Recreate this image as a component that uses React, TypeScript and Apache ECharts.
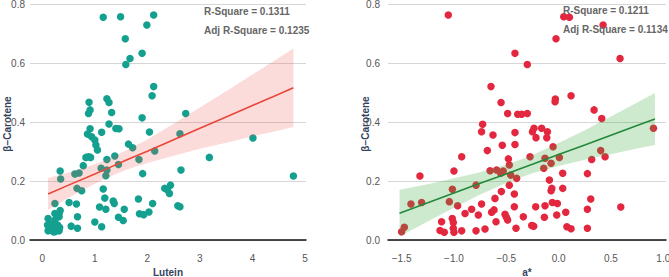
import React, { useEffect, useRef } from "react";
import * as echarts from "echarts";

// ---- Left panel: Lutein vs β-Carotene ----
const luteinPoints: [number, number][] = [
  [1.16, 0.755], [1.49, 0.757], [2.12, 0.763], [1.99, 0.729], [1.58, 0.682], [1.9, 0.633], [1.67, 0.615], [1.59, 0.595],
  [2.12, 0.52], [2.09, 0.489], [0.89, 0.467], [0.91, 0.441], [0.88, 0.429], [1.23, 0.479], [1.27, 0.466], [1.32, 0.432], [1.9, 0.414], [2.73, 0.429],
  [0.91, 0.377], [0.86, 0.359], [1.27, 0.393], [1.4, 0.378], [1.46, 0.377], [1.13, 0.365], [2.04, 0.366], [2.62, 0.36], [4.01, 0.346], [0.94, 0.35],
  [1.0, 0.339], [1.02, 0.322], [1.05, 0.305], [1.64, 0.325], [1.72, 0.313], [2.14, 0.302], [3.18, 0.28], [0.83, 0.28], [0.92, 0.28], [0.88, 0.282],
  [1.23, 0.273], [1.38, 0.285], [1.84, 0.273], [0.78, 0.252], [1.12, 0.243], [1.45, 0.256], [1.23, 0.237], [1.21, 0.218], [1.91, 0.225], [2.64, 0.237], [4.78, 0.217],
  [0.34, 0.234], [0.35, 0.207], [0.62, 0.224], [0.7, 0.227], [0.66, 0.175], [0.75, 0.167], [1.16, 0.173], [2.33, 0.175], [2.44, 0.186], [2.42, 0.158], [2.38, 0.17],
  [1.83, 0.139], [1.19, 0.142], [1.35, 0.132], [1.37, 0.124], [2.1, 0.124], [0.24, 0.124], [0.51, 0.127], [0.65, 0.122], [2.58, 0.116], [2.62, 0.113],
  [1.09, 0.112], [1.21, 0.104], [1.56, 0.104], [0.34, 0.1], [0.32, 0.09], [0.24, 0.09], [1.85, 0.089], [1.93, 0.086], [2.03, 0.095], [0.67, 0.079],
  [0.11, 0.073], [1.45, 0.077], [1.54, 0.066], [1.0, 0.061], [0.55, 0.047], [0.67, 0.04], [1.13, 0.045], [0.33, 0.042], [0.11, 0.031], [0.21, 0.028],
  [0.32, 0.031], [0.15, 0.054], [0.24, 0.045], [0.18, 0.036], [0.1, 0.051], [0.15, 0.034], [0.29, 0.051], [0.24, 0.068], [0.32, 0.079], [0.24, 0.028],
];
const luteinBandX = [0.11, 0.5, 1.0, 1.3, 1.6, 2.0, 2.5, 3.0, 3.5, 4.0, 4.5, 4.78];
const luteinFit = [0.156, 0.186, 0.224, 0.247, 0.271, 0.301, 0.34, 0.379, 0.417, 0.456, 0.494, 0.516];
const luteinLower = [0.102, 0.143, 0.191, 0.216, 0.238, 0.261, 0.286, 0.309, 0.33, 0.351, 0.371, 0.383];
const luteinUpper = [0.21, 0.229, 0.257, 0.278, 0.304, 0.341, 0.394, 0.449, 0.504, 0.561, 0.617, 0.649];

// ---- Right panel: a* vs β-Carotene ----
const aStarPoints: [number, number][] = [
  [-1.054, 0.763], [0.049, 0.757], [0.103, 0.755], [0.425, 0.729], [-0.025, 0.682], [-0.417, 0.633], [-0.299, 0.595], [0.587, 0.615],
  [-0.646, 0.52], [0.119, 0.489], [-0.031, 0.478], [-0.034, 0.469], [-0.55, 0.466], [-0.487, 0.429], [-0.391, 0.426], [-0.353, 0.426], [-0.299, 0.429],
  [0.339, 0.441], [0.412, 0.412], [-0.726, 0.392], [-0.736, 0.367], [-0.627, 0.356], [-0.417, 0.364], [-0.417, 0.324], [-0.538, 0.321], [-0.681, 0.303],
  [-0.235, 0.379], [-0.25, 0.367], [-0.162, 0.379], [-0.107, 0.367], [-0.113, 0.347], [-0.216, 0.347], [-0.053, 0.316], [0.906, 0.379], [0.402, 0.303],
  [0.444, 0.282], [0.316, 0.273], [-0.926, 0.282], [-1.0, 0.234], [-1.325, 0.217], [-0.655, 0.235], [-0.592, 0.237], [-0.554, 0.226], [-0.529, 0.234],
  [-0.48, 0.275], [-0.471, 0.254], [-0.458, 0.22], [-0.401, 0.209], [-0.273, 0.282], [-0.13, 0.277], [-0.142, 0.243], [0.007, 0.28], [-0.072, 0.26],
  [0.039, 0.226], [0.275, 0.225], [-0.088, 0.203], [-0.065, 0.175], [-0.072, 0.167], [0.039, 0.175], [-0.789, 0.186], [-1.015, 0.172], [-0.471, 0.186],
  [-0.547, 0.164], [-0.423, 0.156], [-0.608, 0.141], [-1.411, 0.122], [-1.309, 0.127], [-1.044, 0.13], [-0.965, 0.116], [-0.736, 0.122], [-0.423, 0.113],
  [-0.219, 0.113], [-0.13, 0.116], [-0.06, 0.127], [-0.012, 0.124], [0.307, 0.139], [0.594, 0.112], [0.275, 0.104], [0.068, 0.094], [-0.018, 0.085],
  [-0.136, 0.077], [-0.337, 0.079], [-0.499, 0.077], [-0.487, 0.068], [-0.64, 0.094], [-0.617, 0.102], [-0.598, 0.062], [-0.831, 0.104], [-0.894, 0.09],
  [-0.767, 0.085], [-1.016, 0.073], [-1.006, 0.059], [-1.118, 0.062], [-1.133, 0.032], [-1.092, 0.026], [-1.006, 0.04], [-1.0, 0.026], [-0.926, 0.031],
  [-0.789, 0.031], [-0.703, 0.037], [-0.407, 0.04], [-0.257, 0.049], [-0.238, 0.047], [0.079, 0.045], [0.119, 0.038], [0.275, 0.04], [-1.5, 0.028],
  [-1.474, 0.043], [-0.512, 0.087],
];
const aStarBandX = [-1.52, -1.25, -1.0, -0.75, -0.5, -0.38, -0.25, 0, 0.25, 0.5, 0.75, 0.92];
const aStarFit = [0.091, 0.126, 0.159, 0.192, 0.224, 0.24, 0.257, 0.29, 0.322, 0.355, 0.388, 0.41];
const aStarLower = [0.012, 0.063, 0.109, 0.154, 0.193, 0.21, 0.226, 0.251, 0.272, 0.291, 0.31, 0.322];
const aStarUpper = [0.17, 0.189, 0.209, 0.23, 0.255, 0.27, 0.288, 0.329, 0.372, 0.419, 0.466, 0.498];

const yTicks = [0, 0.2, 0.4, 0.6, 0.8];
const yTitle = "β−Carotene";
const leftStats = ["R-Square = 0.1311", "Adj R-Square = 0.1235"];
const rightStats = ["R-Square = 0.1211", "Adj R-Square = 0.1134"];

const FONT = "'Liberation Sans', Arial, sans-serif";
const TICK_COLOR = "#555555";
const TITLE_COLOR = "#34435e";

function bandSeries(xIdx: number, bx: number[], lo: number[], hi: number[], fill: string) {
  return {
    type: "custom",
    xAxisIndex: xIdx,
    yAxisIndex: xIdx,
    z: 3,
    silent: true,
    data: [[bx[0], lo[0]]],
    renderItem: (_params: any, api: any) => {
      const pts: number[][] = [];
      for (let i = 0; i < bx.length; i++) pts.push(api.coord([bx[i], hi[i]]));
      for (let i = bx.length - 1; i >= 0; i--) pts.push(api.coord([bx[i], lo[i]]));
      return { type: "polygon", shape: { points: pts }, style: { fill } };
    },
  };
}

export default function App() {
  const ref = useRef<HTMLDivElement>(null);
  useEffect(() => {
    if (!ref.current) return;
    const chart = echarts.init(ref.current, null, { renderer: "svg" });
    const yAxisBase = (gi: number, margin: number) => ({
      type: "value",
      gridIndex: gi,
      min: 0,
      max: 0.8,
      interval: 0.2,
      axisLine: { show: false },
      axisTick: { show: false },
      axisLabel: {
        color: TICK_COLOR,
        fontSize: 10,
        fontFamily: FONT,
        margin,
        formatter: (v: number) => (yTicks.some((t) => Math.abs(t - v) < 1e-9) ? v.toFixed(1) : ""),
      },
      splitLine: { show: true, lineStyle: { color: "#d6d6d6", width: 1 } },
    });
    const xAxisBase = (gi: number, min: number, max: number, name: string, fmt: (v: number) => string) => ({
      type: "value",
      gridIndex: gi,
      min,
      max,
      splitNumber: 5,
      name,
      nameLocation: "middle",
      nameGap: 24,
      nameTextStyle: { color: TITLE_COLOR, fontWeight: "bold", fontSize: 10, fontFamily: FONT },
      axisLine: { show: true, lineStyle: { color: "#111111", width: 1.5 } },
      axisTick: { show: false },
      axisLabel: { color: TICK_COLOR, fontSize: 10, fontFamily: FONT, margin: 13, formatter: fmt },
      splitLine: { show: false },
    });
    const statText = (x: number, y: number, text: string) => ({
      type: "text",
      x,
      y,
      z: 10,
      style: {
        text,
        fill: "#666666",
        font: `bold 10px ${FONT}`,
        textVerticalAlign: "middle",
      },
    });
    const yTitleText = (x: number) => ({
      type: "text",
      x,
      y: 124,
      rotation: Math.PI / 2,
      z: 10,
      style: {
        text: yTitle,
        fill: TITLE_COLOR,
        font: `bold 10px ${FONT}`,
        textAlign: "center",
        textVerticalAlign: "middle",
      },
    });
    chart.setOption({
      animation: false,
      backgroundColor: "#ffffff",
      grid: [
        { left: 30, width: 276, top: 4, height: 236, containLabel: false, outerBoundsMode: "none" },
        { left: 388, width: 278, top: 4, height: 236, containLabel: false, outerBoundsMode: "none" },
      ],
      xAxis: [
        xAxisBase(0, -0.234, 5.02, "Lutein", (v: number) =>
          Math.abs(v - Math.round(v)) < 1e-9 ? String(Math.round(v)) : ""
        ),
        xAxisBase(1, -1.63, 1.026, "a*", (v: number) => {
          const r = Math.round(v * 2) / 2;
          if (Math.abs(v - r) > 1e-9) return "";
          return (r < 0 ? "\u2212" : "") + Math.abs(r).toFixed(1);
        }),
      ],
      yAxis: [yAxisBase(0, 5), yAxisBase(1, 8)],
      series: [
        {
          type: "scatter",
          xAxisIndex: 0,
          yAxisIndex: 0,
          z: 2,
          symbolSize: 7.5,
          itemStyle: { color: "#14a08f", opacity: 1 },
          data: luteinPoints,
        },
        bandSeries(0, luteinBandX, luteinLower, luteinUpper, "rgba(240,80,70,0.2)"),
        {
          type: "line",
          xAxisIndex: 0,
          yAxisIndex: 0,
          z: 4,
          showSymbol: false,
          symbol: "none",
          lineStyle: { color: "#e9473a", width: 1.6 },
          data: luteinBandX.map((x, i) => [x, luteinFit[i]]),
        },
        {
          type: "scatter",
          xAxisIndex: 1,
          yAxisIndex: 1,
          z: 2,
          symbolSize: 7.5,
          itemStyle: { color: "#e2273f", opacity: 1 },
          data: aStarPoints,
        },
        bandSeries(1, aStarBandX, aStarLower, aStarUpper, "rgba(60,170,60,0.25)"),
        {
          type: "line",
          xAxisIndex: 1,
          yAxisIndex: 1,
          z: 4,
          showSymbol: false,
          symbol: "none",
          lineStyle: { color: "#23883a", width: 1.6 },
          data: aStarBandX.map((x, i) => [x, aStarFit[i]]),
        },
      ],
      graphic: [
        statText(204, 11, leftStats[0]),
        statText(204, 30, leftStats[1]),
        statText(563, 10, rightStats[0]),
        statText(563, 29.5, rightStats[1]),
        yTitleText(7.5),
        yTitleText(365),
      ],
    });
    return () => chart.dispose();
  }, []);
  return (
    <div
      ref={ref}
      style={{ position: "fixed", left: 0, top: 0, width: 669, height: 277, background: "#fff" }}
    />
  );
}
